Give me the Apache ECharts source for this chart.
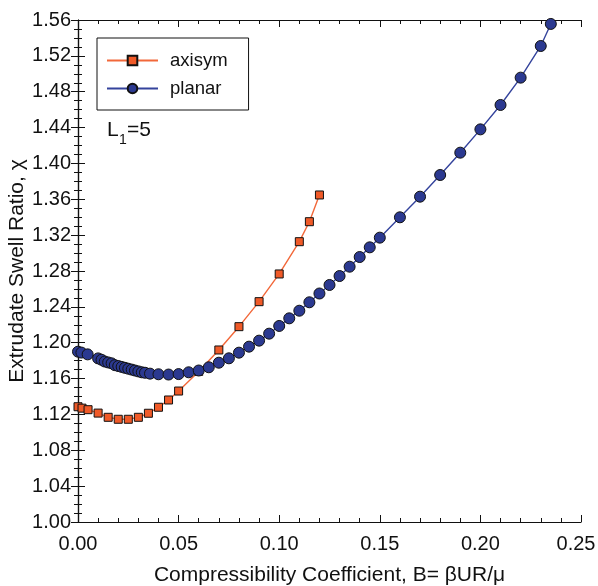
<!DOCTYPE html>
<html>
<head>
<meta charset="utf-8">
<script src="https://cdn.jsdelivr.net/npm/echarts@6/dist/echarts.min.js"></script>
<style>
  html, body { margin: 0; padding: 0; background: #fff; }
  #chart { width: 598px; height: 586px; }
</style>
</head>
<body>
<div id="chart"></div>
<script>
// Extrudate swell ratio vs. compressibility coefficient
const axisymB = [0, 0.002, 0.005, 0.01, 0.015, 0.02, 0.025, 0.03, 0.035, 0.04, 0.045, 0.05,
  0.06, 0.07, 0.08, 0.09, 0.10, 0.11, 0.115, 0.12];
const axisymChi = [1.1286, 1.127, 1.1253, 1.1215, 1.1168, 1.1146, 1.1146, 1.1168, 1.1213, 1.128,
  1.1361, 1.1461, 1.168, 1.1919, 1.2179, 1.2458, 1.2767, 1.3127, 1.335, 1.3648];

const planarB = [0, 0.0017, 0.0048,
  0.0100, 0.0117, 0.0133, 0.0150, 0.0167, 0.0183, 0.0200, 0.0217, 0.0233, 0.0250, 0.0267,
  0.0283, 0.0300, 0.0317, 0.0333, 0.0358, 0.040,
  0.045, 0.050, 0.055, 0.060, 0.065, 0.070, 0.075, 0.080, 0.085, 0.090, 0.095, 0.100,
  0.105, 0.110, 0.115, 0.120, 0.125, 0.130, 0.135, 0.140, 0.145, 0.150,
  0.16, 0.17, 0.18, 0.19, 0.20, 0.21, 0.22, 0.23, 0.235];
const planarChi = [1.190, 1.189, 1.187,
  1.1825, 1.181, 1.179, 1.178, 1.177, 1.175, 1.174, 1.173, 1.172, 1.171, 1.170,
  1.169, 1.168, 1.167, 1.1665, 1.1655, 1.1648,
  1.1645, 1.165, 1.167, 1.169, 1.1726, 1.1777, 1.1826, 1.1889, 1.1956, 1.2023, 1.2101, 1.2187,
  1.2272, 1.2357, 1.2451, 1.2549, 1.2644, 1.2744, 1.2848, 1.2956, 1.3064, 1.3172,
  1.3399, 1.3629, 1.3871, 1.412, 1.438, 1.4652, 1.4957, 1.531, 1.5556];

const seriesNames = ['axisym', 'planar'];
const xTitle = 'Compressibility Coefficient, B= \u03b2UR/\u03bc';
const yTitle = 'Extrudate Swell Ratio, \u03c7';

const FONT = '"Liberation Sans", Arial, Helvetica, sans-serif';
const INK = '#111';

function pairs(xs, ys) { return xs.map((x, i) => [x, ys[i]]); }

const tickBase = {
  show: true, inside: true, length: 7,
  lineStyle: { color: INK, width: 1 }
};
const minorBase = {
  show: true, length: 4,
  lineStyle: { color: INK, width: 1 }
};

const chart = echarts.init(document.getElementById('chart'), null, { renderer: 'canvas' });
chart.setOption({
  backgroundColor: '#fff',
  animation: false,
  grid: { left: 78, right: 17, top: 20, bottom: 64, containLabel: false, outerBoundsMode: 'none' },
  legend: {
    orient: 'vertical',
    left: 97, top: 38,
    data: seriesNames,
    itemWidth: 51, itemHeight: 12, itemGap: 9,
    padding: [13, 21, 12, 9],
    borderColor: INK, borderWidth: 1,
    textStyle: { fontFamily: FONT, fontSize: 18.5, color: INK, lineHeight: 18, padding: [0, 0, 0, 7] }
  },
  graphic: [
    { type: 'text', left: 107, top: 120, style: { text: 'L', font: '21px ' + FONT, fill: INK } },
    { type: 'text', left: 119, top: 133, style: { text: '1', font: '14px ' + FONT, fill: INK } },
    { type: 'text', left: 127, top: 120, style: { text: '=5', font: '21px ' + FONT, fill: INK } }
  ],
  xAxis: [
    {
      type: 'value', position: 'bottom', min: 0, max: 0.25, interval: 0.05,
      name: xTitle, nameLocation: 'middle', nameGap: 43, nameMoveOverlap: false,
      nameTextStyle: { fontFamily: FONT, fontSize: 21, color: INK },
      axisLine: { show: true, lineStyle: { color: INK, width: 1.2 } },
      axisTick: tickBase,
      minorTick: Object.assign({ splitNumber: 5 }, minorBase),
      splitLine: { show: false },
      axisLabel: {
        fontFamily: FONT, fontSize: 20, color: INK, margin: 12,
        // the last label is nudged left so it stays inside the page edge
        formatter: v => v >= 0.2499 ? '{edge|' + v.toFixed(2) + '}' : v.toFixed(2),
        rich: { edge: { fontFamily: FONT, fontSize: 20, color: INK, padding: [0, 10, 0, 0] } }
      }
    },
    {
      type: 'value', position: 'top', min: 0, max: 0.25, interval: 0.05,
      axisLine: { show: true, lineStyle: { color: INK, width: 1.2 } },
      axisTick: tickBase,
      minorTick: Object.assign({ splitNumber: 5 }, minorBase),
      splitLine: { show: false },
      axisLabel: { show: false }
    }
  ],
  yAxis: [
    {
      type: 'value', position: 'left', min: 1.00, max: 1.56, interval: 0.04,
      name: yTitle, nameLocation: 'middle', nameGap: 50, nameMoveOverlap: false,
      nameTextStyle: { fontFamily: FONT, fontSize: 21, color: INK },
      axisLine: { show: true, lineStyle: { color: INK, width: 1.2 } },
      axisTick: tickBase,
      minorTick: Object.assign({ splitNumber: 4 }, minorBase),
      splitLine: { show: false },
      axisLabel: {
        fontFamily: FONT, fontSize: 20, color: INK, margin: 7,
        formatter: v => v.toFixed(2)
      }
    },
    {
      type: 'value', position: 'right', min: 1.00, max: 1.56, interval: 0.04,
      axisLine: { show: true, lineStyle: { color: INK, width: 1.2 } },
      axisTick: tickBase,
      minorTick: Object.assign({ splitNumber: 4 }, minorBase),
      splitLine: { show: false },
      axisLabel: { show: false }
    }
  ],
  series: [
    {
      name: seriesNames[0], type: 'line', xAxisIndex: 0, yAxisIndex: 0,
      data: pairs(axisymB, axisymChi),
      symbol: 'rect', symbolSize: 8, showAllSymbol: true,
      lineStyle: { color: '#f2683a', width: 1.4 },
      itemStyle: { color: '#f05a28', borderColor: '#111', borderWidth: 1 },
      z: 2
    },
    {
      name: seriesNames[1], type: 'line', xAxisIndex: 0, yAxisIndex: 0,
      data: pairs(planarB, planarChi),
      symbol: 'circle', symbolSize: 11, showAllSymbol: true,
      lineStyle: { color: '#34439c', width: 1.4 },
      itemStyle: { color: '#2b3990', borderColor: '#111', borderWidth: 1 },
      z: 3
    }
  ]
});
</script>
</body>
</html>
